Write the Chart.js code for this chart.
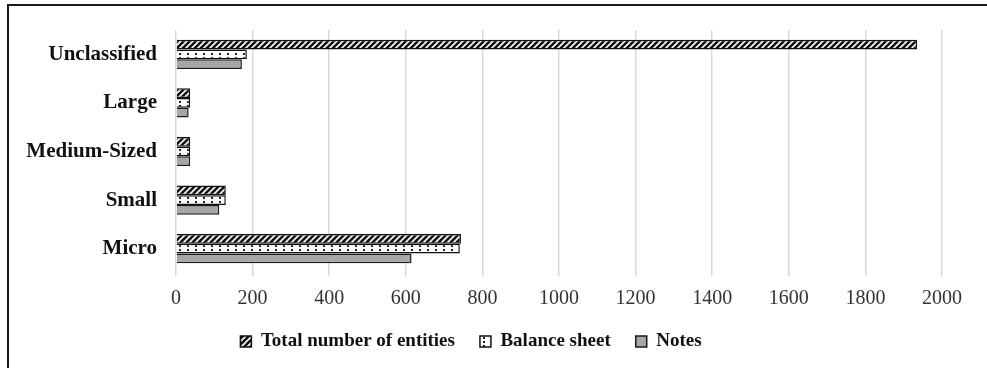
<!DOCTYPE html>
<html>
<head>
<meta charset="utf-8">
<script src="https://cdn.jsdelivr.net/npm/chart.js@4.4.1/dist/chart.umd.min.js"></script>
<style>
  html, body { margin: 0; padding: 0; background: #fff; overflow: hidden; }
  #wrap { position: relative; width: 987px; height: 368px; }
  #frame { position: absolute; left: 7px; top: 4px; width: 1100px; height: 500px;
           border-left: 2px solid #1a1a1a; border-top: 2px solid #1a1a1a; box-sizing: border-box; }
  canvas { position: absolute; left: 0; top: 0; }
</style>
</head>
<body>
<div id="wrap">
  <div id="frame"></div>
  <canvas id="chart" width="987" height="368"></canvas>
</div>
<script>
// Entity size classes (top to bottom)
const categories = ['Unclassified', 'Large', 'Medium-Sized', 'Small', 'Micro'];

// Number of entities per size class
const totalEntities = [1935, 37, 37, 130, 744];
const balanceSheet  = [185, 37, 37, 130, 741];
const notes         = [172, 33, 37, 113, 615];

const xTicks = [0, 200, 400, 600, 800, 1000, 1200, 1400, 1600, 1800, 2000];

const serif = "'Liberation Serif', 'Times New Roman', serif";
Chart.defaults.font.family = serif;

// Fill patterns for the three series
function hatchPattern() {
  const c = document.createElement('canvas');
  c.width = 6; c.height = 6;
  const g = c.getContext('2d');
  g.fillStyle = '#111';
  g.fillRect(0, 0, 6, 6);
  g.strokeStyle = '#fff';
  g.lineWidth = 1.6;
  g.beginPath();
  g.moveTo(-1, 7); g.lineTo(7, -1);
  g.moveTo(-4, 4); g.lineTo(4, -4);
  g.moveTo(2, 10); g.lineTo(10, 2);
  g.stroke();
  return g.createPattern(c, 'repeat');
}
function dotPattern() {
  const c = document.createElement('canvas');
  c.width = 8; c.height = 4;
  const g = c.getContext('2d');
  g.fillStyle = '#fff';
  g.fillRect(0, 0, 8, 4);
  g.fillStyle = '#222';
  g.fillRect(3, 1, 2, 2);
  return g.createPattern(c, 'repeat');
}

const ctx = document.getElementById('chart').getContext('2d');
new Chart(ctx, {
  type: 'bar',
  data: {
    labels: categories,
    datasets: [
      { label: 'Total number of entities', data: totalEntities,
        backgroundColor: hatchPattern(), borderColor: '#111', borderWidth: 1.5 },
      { label: 'Balance sheet', data: balanceSheet,
        backgroundColor: dotPattern(), borderColor: '#111', borderWidth: 1.5 },
      { label: 'Notes', data: notes,
        backgroundColor: '#a6a6a6', borderColor: '#1a1a1a', borderWidth: 1.5 }
    ]
  },
  options: {
    indexAxis: 'y',
    responsive: false,
    animation: false,
    devicePixelRatio: 1,
    categoryPercentage: 0.6,
    barPercentage: 1.0,
    layout: { padding: { top: 30, right: 45, bottom: 7, left: 0 } },
    plugins: {
      legend: {
        position: 'bottom',
        maxHeight: 56,
        labels: {
          boxWidth: 11, boxHeight: 11, padding: 25,
          color: '#111',
          font: { family: serif, size: 19, weight: 'bold', lineHeight: 1 }
        }
      },
      tooltip: { enabled: false }
    },
    scales: {
      x: {
        min: 0, max: 2000,
        afterBuildTicks: s => { s.ticks = xTicks.map(v => ({ value: v })); },
        afterFit: s => { s.height = 34; },
        grid: { color: '#d9d9d9', lineWidth: 1.5, tickLength: 3, drawTicks: true },
        border: { display: false },
        ticks: {
          color: '#333', padding: 15,
          callback: v => String(v),
          font: { family: serif, size: 20, lineHeight: 0.8 }
        }
      },
      y: {
        grid: { display: false, drawTicks: false },
        border: { display: false },
        afterFit: s => { s.width = 176; s.paddingTop = 0; s.paddingBottom = 0; },
        ticks: {
          color: '#111', padding: 19,
          font: { family: serif, size: 21, weight: 'bold' }
        }
      }
    }
  }
});
</script>
</body>
</html>
